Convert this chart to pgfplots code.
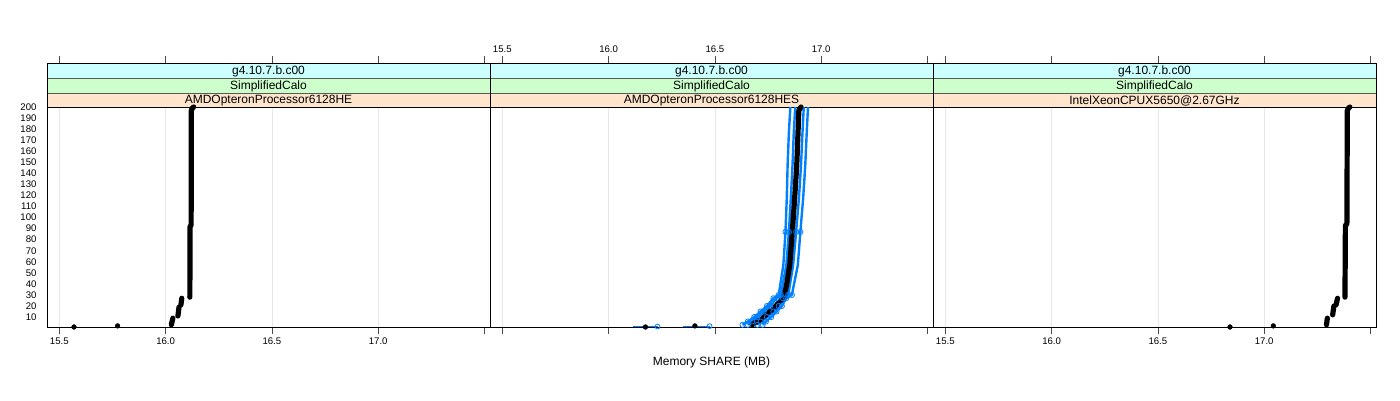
\documentclass[border=0pt]{standalone}
\usepackage{fontspec}
\setmainfont{Liberation Sans}
\usepackage{pgfplots}
\pgfplotsset{compat=1.18}
\definecolor{stripcyan}{HTML}{CCFFFF}
\definecolor{stripgreen}{HTML}{CCFFCC}
\definecolor{striporange}{HTML}{FFE5CC}
\definecolor{latblue}{HTML}{0080FF}
\definecolor{gridgray}{HTML}{E8E8E8}

\pgfplotsset{
 panel/.style={
  scale only axis, width=443pt, height=264pt,
  xmin=15.442, xmax=17.526, ymin=1, ymax=239.8,
  xtick={15.5,16,16.5,17}, xticklabels={15.5,16.0,16.5,17.0},
  minor xtick={17.5}, minor tick length=7pt,
  xmajorgrids, grid style={gridgray, line width=0.7pt},
  tick align=outside, major tick length=7pt,
  x tick style={black!70, line width=0.7pt},
  xtick pos=both,
  y tick style={draw=none},
  axis line style={black, line width=0.8pt},
  ticklabel style={font=\fontsize{9.6}{10}\selectfont},
  /pgf/number format/assume math mode=true,
  unbounded coords=jump,
  anchor=south west, clip=false,
 },
 blk/.style={black, line width=5.2pt, line cap=round, line join=round},
 dot/.style={only marks, mark=*, mark size=2.4pt, black},
 blu/.style={latblue, line width=2.4pt, line join=round, mark=o, mark size=2.6pt, mark options={solid, line width=0.8pt}, mark indices={1,2,3,4,5,6,7,9}},
}
\newcommand{\strips}[1]{%
  \fill[striporange] (axis cs:15.442,200) rectangle (axis cs:17.526,212.66);
  \fill[stripgreen] (axis cs:15.442,212.66) rectangle (axis cs:17.526,226.23);
  \fill[stripcyan] (axis cs:15.442,226.23) rectangle (axis cs:17.526,239.8);
  \draw[black, line width=0.8pt] (axis cs:15.442,200) -- (axis cs:17.526,200);
  \draw[gray!70!black, line width=0.9pt] (axis cs:15.442,212.66) -- (axis cs:17.526,212.66);
  \draw[gray!70!black, line width=0.8pt] (axis cs:15.442,226.23) -- (axis cs:17.526,226.23);
  \draw[black, line width=0.8pt] (axis cs:15.442,239.8) -- (axis cs:17.526,239.8);
  \draw[black, line width=0.8pt] (axis cs:15.442,200) -- (axis cs:15.442,239.8);
  \draw[black, line width=0.8pt] (axis cs:17.526,200) -- (axis cs:17.526,239.8);
  \node[font=\fontsize{12}{14}\selectfont] at (axis cs:16.484,205.8) {#1};
  \node[font=\fontsize{12}{14}\selectfont] at (axis cs:16.484,219.0) {SimplifiedCalo};
  \node[font=\fontsize{12}{14}\selectfont] at (axis cs:16.484,232.4) {g4.10.7.b.c00};
}

\begin{document}
\begin{tikzpicture}
\useasboundingbox (0,0) rectangle (1400pt,400pt);

% Panel 1: AMDOpteronProcessor6128HE
\begin{axis}[panel, at={(47pt,73pt)},
  ytick={10,20,...,200}, ytick pos=left,
  ylabel={Event Number},
  ylabel style={at={(axis description cs:0,0)}, anchor=center, xshift=-36pt, yshift=110pt, font=\fontsize{12}{14}\selectfont}]
\strips{AMDOpteronProcessor6128HE}
\addplot[dot] coordinates {(15.569,1) (15.774,2)};
\addplot[blk] table {
x y
16.027 3
16.034 9
nan nan
16.058 11
16.063 19
nan nan
16.072 21
16.076 27
nan nan
16.114 28
16.115 92
16.120 93
16.121 197
16.126 199
16.132 200
};
\end{axis}

% Panel 2: AMDOpteronProcessor6128HES
\begin{axis}[panel, at={(490pt,73pt)},
  xticklabel pos=top, ytick=\empty,
  xlabel={Memory SHARE (MB)},
  xlabel style={at={(axis description cs:0.5,0)}, anchor=center, yshift=-35pt, font=\fontsize{12}{14}\selectfont}]
\strips{AMDOpteronProcessor6128HES}
% blue runs
\addplot[latblue, line width=1.2pt, mark=o, mark size=2.4pt, mark options={solid, line width=0.8pt}, mark indices={2}] coordinates {(16.115,1.4) (16.23,1.4)};
\addplot[latblue, line width=1.2pt, mark=o, mark size=2.4pt, mark options={solid, line width=0.8pt}, mark indices={2}] coordinates {(16.35,1.8) (16.475,1.8)};
\addplot[blu] table {
x y
16.630 3
16.655 6
16.685 10
16.715 15
16.745 20
16.775 27
16.800 30
16.822 57
16.832 87
16.838 117
16.842 147
16.848 177
16.855 200
};
\addplot[blu] table {
x y
16.655 3
16.675 6
16.700 10
16.730 15
16.760 20
16.790 27
16.810 30
16.836 57
16.848 87
16.857 117
16.865 147
16.871 177
16.878 200
};
\addplot[blu] table {
x y
16.700 3
16.715 6
16.745 10
16.775 15
16.800 20
16.820 27
16.845 30
16.868 57
16.882 87
16.895 117
16.905 147
16.912 177
16.918 200
};
\addplot[blu] table {
x y
16.725 3
16.740 6
16.765 10
16.790 15
16.815 20
16.835 27
16.862 30
16.890 57
16.902 87
16.915 117
16.925 147
16.932 177
16.938 200
};
% black run
\addplot[dot] coordinates {(16.173,1) (16.406,2)};
\addplot[blk] table {
x y
16.675 3
16.690 5
16.720 8
16.740 12
16.772 17
16.782 19
16.805 24
16.825 28
16.838 40
16.852 57
16.864 87
16.875 117
16.885 147
16.891 177
16.895 197
16.905 200
};
\end{axis}

% Panel 3: IntelXeonCPUX5650@2.67GHz
\begin{axis}[panel, at={(933pt,73pt)}, ytick=\empty]
\strips{IntelXeonCPUX5650@2.67GHz}
\addplot[dot] coordinates {(16.839,1) (17.043,2)};
\addplot[blk] table {
x y
17.293 3
17.297 9
nan nan
17.322 12
17.328 20
nan nan
17.338 21
17.345 27
nan nan
17.380 28
17.382 93
17.389 94
17.391 197
17.397 199
17.403 200
};
\end{axis}
\end{tikzpicture}
\end{document}
